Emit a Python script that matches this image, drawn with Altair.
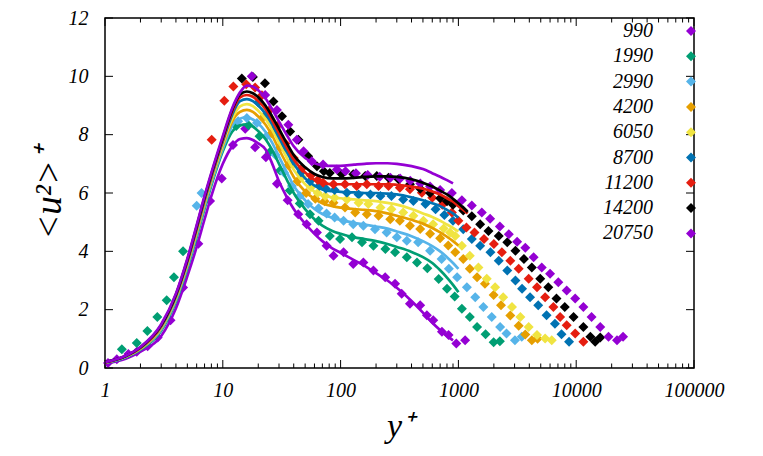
import altair as alt
import pandas as pd

RE = ["990", "1990", "2990", "4200", "6050", "8700", "11200", "14200", "20750"]
COLORS = ["#9400D3", "#009E73", "#56B4E9", "#E69F00", "#F0E442",
          "#0072B2", "#E51E10", "#000000", "#9400D3"]

MAJOR_X = [1, 10, 100, 1000, 10000, 100000]
MINOR_X = [2, 3, 4, 5, 6, 7, 8, 9, 20, 30, 40, 50, 60, 70, 80, 90,
           200, 300, 400, 500, 600, 700, 800, 900,
           2000, 3000, 4000, 5000, 6000, 7000, 8000, 9000,
           20000, 30000, 40000, 50000, 60000, 70000, 80000, 90000]
Y_TICKS = [0, 2, 4, 6, 8, 10, 12]

# ---- model lines (common y+ grid, each series ends where its list ends)
LINE_YP = [1, 1.5, 2, 3, 4, 5, 6, 7, 8, 10, 12, 14, 16, 18, 20, 23, 26, 30, 35, 40,
           50, 60, 70, 85, 100, 130, 160, 200, 250, 300, 400, 500, 600, 700, 800,
           900, 1000, 1200]
l990 = [0.15, 0.32, 0.56, 1.1, 2.05, 3.15, 4.15, 5.1, 5.9, 7.0, 7.6, 7.85,
        7.88, 7.82, 7.7, 7.5, 7.05, 6.4, 5.85, 5.45, 4.95, 4.6, 4.35, 4.1, 3.95,
        3.7, 3.5, 3.25, 3.0, 2.75, 2.3, 1.9, 1.55, 1.3, 1.1, 0.95]
l1990 = [0.17, 0.37, 0.63, 1.28, 2.28, 3.42, 4.49, 5.46, 6.26, 7.43, 8.1, 8.32,
         8.35, 8.28, 8.12, 7.85, 7.5, 7.0, 6.45, 6.0, 5.45, 5.1, 4.88, 4.7, 4.6,
         4.48, 4.42, 4.35, 4.25, 4.15, 3.98, 3.8, 3.6, 3.35, 3.1, 2.85, 2.6]
l2990 = [0.18, 0.38, 0.65, 1.32, 2.33, 3.48, 4.56, 5.54, 6.34, 7.52, 8.3, 8.55,
         8.6, 8.52, 8.38, 8.1, 7.75, 7.25, 6.7, 6.25, 5.75, 5.45, 5.28, 5.15, 5.08,
         4.98, 4.92, 4.85, 4.78, 4.68, 4.52, 4.35, 4.18, 4.0, 3.8, 3.6, 3.4]
l4200 = [0.18, 0.39, 0.66, 1.36, 2.38, 3.54, 4.64, 5.62, 6.42, 7.62, 8.45, 8.78,
         8.85, 8.78, 8.62, 8.35, 8.0, 7.5, 6.98, 6.55, 6.05, 5.8, 5.65, 5.55, 5.5,
         5.45, 5.42, 5.38, 5.3, 5.22, 5.08, 4.95, 4.8, 4.65, 4.5, 4.35, 4.2]
l6050 = [0.19, 0.39, 0.68, 1.39, 2.41, 3.58, 4.69, 5.68, 6.48, 7.68, 8.55, 8.97,
         9.05, 8.98, 8.82, 8.55, 8.2, 7.72, 7.2, 6.8, 6.3, 6.05, 5.92, 5.85, 5.82,
         5.78, 5.75, 5.72, 5.66, 5.6, 5.45, 5.3, 5.18, 5.05, 4.92, 4.8, 4.68]
l8700 = [0.19, 0.4, 0.69, 1.42, 2.45, 3.63, 4.75, 5.74, 6.54, 7.76, 8.68, 9.15,
         9.22, 9.15, 9.0, 8.72, 8.38, 7.9, 7.4, 7.0, 6.5, 6.25, 6.12, 6.06, 6.04,
         6.02, 6.0, 6.0, 5.98, 5.95, 5.85, 5.75, 5.65, 5.55, 5.42, 5.3, 5.15]
l11200 = [0.19, 0.41, 0.7, 1.45, 2.49, 3.67, 4.8, 5.8, 6.6, 7.83, 8.78, 9.28,
          9.36, 9.3, 9.15, 8.88, 8.52, 8.05, 7.55, 7.15, 6.7, 6.45, 6.35, 6.3, 6.3,
          6.3, 6.3, 6.3, 6.3, 6.28, 6.22, 6.15, 6.05, 5.95, 5.82, 5.7, 5.55, 5.3]
l14200 = [0.2, 0.41, 0.71, 1.47, 2.52, 3.71, 4.85, 5.85, 6.65, 7.89, 8.85, 9.38,
          9.48, 9.42, 9.28, 9.0, 8.65, 8.2, 7.7, 7.3, 6.88, 6.65, 6.55, 6.5, 6.5,
          6.52, 6.55, 6.57, 6.57, 6.55, 6.47, 6.35, 6.22, 6.08, 5.95, 5.8, 5.65, 5.35]
l20750 = [0.2, 0.42, 0.72, 1.5, 2.55, 3.75, 4.9, 5.9, 6.7, 7.95, 8.9, 9.45,
          9.68, 9.65, 9.52, 9.25, 8.9, 8.45, 7.98, 7.6, 7.2, 7.02, 6.95, 6.93, 6.93,
          6.97, 7.0, 7.02, 7.02, 7.0, 6.92, 6.82, 6.68, 6.56, 6.44, 6.33]

# ---- measured points [y+, <u^2>+]
m990 = [[1.06, 0.17], [1.26, 0.3], [1.58, 0.48], [1.86, 0.56], [2.3, 0.75], [2.8, 1.05],
        [3.6, 1.64], [4.6, 2.76], [6.2, 4.26], [7.8, 5.73], [9.8, 6.5], [12.2, 7.65],
        [15.5, 8.2], [18.8, 7.57], [23.2, 7.23], [28.8, 6.32], [35.5, 5.75], [43.7, 5.27],
        [51.5, 4.93], [63, 4.65], [76, 4.19], [87, 3.85], [106, 3.97], [128, 3.57],
        [156, 3.62], [190, 3.34], [239, 3.11], [290, 2.89], [330, 2.55], [388, 2.2],
        [474, 2.15], [540, 1.81], [612, 1.64], [725, 1.24], [825, 1.13], [960, 0.84],
        [1140, 0.95]]
m1990 = [[1.39, 0.64], [1.86, 0.86], [2.29, 1.27], [2.78, 1.75], [3.34, 2.32], [3.85, 3.11],
         [4.6, 4.0], [13, 8.3], [16.5, 8.32], [20.5, 7.95], [25, 7.4], [30.6, 6.77],
         [37, 6.09], [45, 5.64], [55, 5.27], [65, 5.05], [81, 4.53], [99, 4.42],
         [125, 4.48], [152, 4.31], [190, 4.19], [240, 4.08], [290, 3.97], [365, 3.8],
         [445, 3.62], [545, 3.42], [680, 3.05], [800, 2.72], [930, 2.45], [1070, 2.03],
         [1250, 1.75], [1440, 1.41], [1700, 1.16], [1990, 0.88], [2250, 0.92]]
m2990 = [[6.0, 5.56], [6.6, 6.0], [13.5, 8.46], [16, 8.57], [19.5, 8.4], [23.5, 7.95],
         [28, 7.3], [33, 6.7], [38.6, 6.24], [45, 5.9], [53, 5.62], [65, 5.48], [76, 5.3],
         [89, 5.16], [106, 5.05], [128, 4.93], [156, 4.88], [196, 4.76], [246, 4.65],
         [300, 4.48], [365, 4.36], [455, 4.31], [575, 4.02], [720, 3.74], [830, 3.4],
         [975, 3.11], [1180, 2.77], [1390, 2.43], [1630, 2.09], [1920, 1.75],
         [2260, 1.41], [2560, 1.18], [3020, 0.95], [3450, 1.07]]
m4200 = [[22, 8.6], [26, 8.05], [30.5, 7.55], [36, 6.95], [43, 6.4], [51, 6.0], [61, 5.8],
         [73, 5.72], [87, 5.67], [109, 5.5], [133, 5.33], [167, 5.27], [210, 5.22],
         [264, 5.1], [318, 5.05], [388, 4.88], [474, 4.77], [575, 4.6], [700, 4.45],
         [820, 4.2], [940, 3.97], [1100, 3.74], [1250, 3.4], [1440, 3.11], [1680, 2.89],
         [1990, 2.5], [2300, 2.15], [2760, 1.8], [3250, 1.45], [3700, 1.15], [4200, 0.95],
         [4700, 1.0]]
m6050 = [[25, 8.6], [29, 8.1], [34, 7.55], [40, 7.0], [47, 6.55], [56, 6.2], [64, 6.0],
         [74, 5.9], [89, 5.84], [113, 5.78], [142, 5.67], [172, 5.62], [218, 5.5],
         [270, 5.44], [340, 5.33], [415, 5.22], [505, 5.05], [610, 4.93], [750, 4.78],
         [850, 4.65], [940, 4.53], [1070, 4.19], [1250, 3.85], [1480, 3.45], [1740, 3.06],
         [2050, 2.77], [2400, 2.43], [2850, 2.09], [3360, 1.75], [3950, 1.41],
         [4650, 1.13], [5450, 1.01], [6200, 0.95]]
m8700 = [[20, 9.1], [24, 8.7], [28, 8.2], [33, 7.6], [39, 7.1], [46, 6.7], [55, 6.4],
         [66, 6.25], [75, 6.15], [89, 6.1], [113, 6.01], [142, 5.95], [179, 5.95],
         [218, 5.9], [270, 5.9], [340, 5.78], [415, 5.73], [525, 5.62], [640, 5.44],
         [760, 5.25], [900, 5.05], [1100, 4.76], [1300, 4.42], [1530, 4.19], [1870, 3.97],
         [2200, 3.68], [2600, 3.34], [3050, 3.0], [3470, 2.72], [4060, 2.43],
         [4760, 2.15], [5600, 1.81], [6600, 1.52], [7500, 1.16], [8700, 0.9]]
m11200 = [[8.05, 7.83], [10.3, 9.16], [12.3, 9.65], [15.8, 9.73], [18.8, 9.62],
          [21.5, 9.35], [25, 8.85], [29, 8.3], [34, 7.7], [40, 7.2], [47, 6.85], [56, 6.6],
          [64, 6.45], [71, 6.35], [87, 6.3], [109, 6.3], [137, 6.24], [167, 6.3],
          [210, 6.24], [255, 6.24], [318, 6.18], [388, 6.13], [490, 6.01], [600, 5.84],
          [730, 5.6], [880, 5.33], [1000, 5.05], [1170, 4.82], [1370, 4.65], [1650, 4.42],
          [2000, 4.25], [2340, 3.97], [2760, 3.68], [3250, 3.4], [3950, 3.06],
          [4650, 2.77], [5450, 2.43], [6400, 2.09], [7300, 1.75], [8300, 1.47],
          [9800, 1.18], [11500, 0.9]]
m14200 = [[14.5, 9.93], [18, 9.98], [22.8, 9.76], [26.9, 9.14], [31.8, 8.63], [37.3, 8.11],
          [43.8, 7.83], [53, 7.26], [63, 6.92], [72, 6.75], [81, 6.69], [102, 6.64],
          [128, 6.64], [162, 6.58], [203, 6.58], [255, 6.52], [310, 6.47], [388, 6.3],
          [474, 6.15], [575, 6.0], [700, 5.82], [800, 5.72], [900, 5.6], [1100, 5.4],
          [1300, 5.2], [1530, 4.93], [1800, 4.7], [2200, 4.53], [2600, 4.31], [3050, 4.02],
          [3600, 3.74], [4200, 3.45], [4950, 3.06], [5800, 2.77], [6800, 2.38],
          [8000, 2.09], [9500, 1.75], [11500, 1.41], [13200, 1.07], [14500, 0.9],
          [16000, 1.05]]
m20750 = [[17.6, 10.0], [22.9, 9.36], [28.8, 8.85], [36, 8.34], [42.5, 7.83], [48.5, 7.43],
          [57, 7.09], [71, 6.98], [93, 6.81], [110, 6.75], [135, 6.68], [170, 6.62],
          [215, 6.56], [265, 6.52], [320, 6.5], [390, 6.42], [475, 6.33], [575, 6.22],
          [700, 6.1], [880, 6.0], [1070, 5.75], [1300, 5.57], [1580, 5.33], [1860, 5.12],
          [2250, 4.85], [2680, 4.59], [3150, 4.33], [3700, 4.12], [4350, 3.8],
          [5100, 3.45], [6000, 3.23], [7050, 2.94], [8300, 2.66], [9800, 2.38],
          [11500, 2.09], [13500, 1.75], [16000, 1.41], [18800, 1.07], [22200, 0.95],
          [25000, 1.07]]

LINES = dict(zip(RE, [l990, l1990, l2990, l4200, l6050, l8700, l11200, l14200, l20750]))
MARKS = dict(zip(RE, [m990, m1990, m2990, m4200, m6050, m8700, m11200, m14200, m20750]))

dfm = pd.DataFrame([{"re": r, "k": i, "yp": p[0], "v": p[1]}
                    for i, r in enumerate(RE) for p in MARKS[r]])
dfl = pd.DataFrame([{"re": r, "k": i, "yp": x, "v": y}
                    for i, r in enumerate(RE) for x, y in zip(LINE_YP, LINES[r])])

W, H = 589, 350
FONT = "Liberation Serif"

xs = alt.Scale(type="log", domain=[1, 100000], nice=False)
ys = alt.Scale(domain=[0, 12], nice=False, zero=False)
cs = alt.Scale(domain=RE, range=COLORS)

points = alt.Chart(dfm).mark_point(shape="diamond", filled=True, size=100, opacity=1).encode(
    x=alt.X("yp:Q", scale=xs, axis=None),
    y=alt.Y("v:Q", scale=ys, axis=None),
    color=alt.Color("re:N", scale=cs, legend=alt.Legend(
        orient="none", legendX=576, legendY=3, title=None,
        symbolType="diamond", symbolSize=100, symbolStrokeWidth=0, symbolOpacity=1,
        labelAlign="right", labelOffset={"expr": "-48"}, labelFont=FONT,
        labelFontStyle="italic", labelFontSize=20, labelColor="black",
        rowPadding=5.3, padding=0)),
)

lines = alt.Chart(dfl).mark_line(strokeWidth=2.7, interpolate="monotone").encode(
    x=alt.X("yp:Q", scale=xs, axis=alt.Axis(
        orient="bottom", values=MAJOR_X, format="d", ticks=False, tickSize=0,
        domain=False, grid=False, labelPadding=12, labelFlush=False, labelOverlap=False,
        labelFont=FONT, labelFontStyle="italic", labelFontSize=20, labelColor="black",
        title="y⁺", titleFont=FONT, titleFontSize=34, titleFontStyle="italic",
        titleFontWeight="normal", titleColor="black", titleY=68,
        titleBaseline="alphabetic")),
    y=alt.Y("v:Q", scale=ys, axis=alt.Axis(
        orient="left", values=Y_TICKS, ticks=False, tickSize=0, domain=False,
        grid=False, labelPadding=17, labelFlush=False, labelOverlap=False,
        labelFont=FONT, labelFontStyle="italic", labelFontSize=20, labelColor="black",
        title="<u²>⁺", titleFont=FONT, titleFontSize=37, titleFontStyle="italic",
        titleFontWeight="normal", titleColor="black", titleX=-56, titleY=175,
        titleAngle=270, titleAlign="center", titleBaseline="middle")),
    color=alt.Color("re:N", scale=cs, legend=None),
    detail="k:N",
)


def x_ticks(vals, y0, y1):
    return alt.Chart(pd.DataFrame({"t": vals})).mark_rule(
        color="black", strokeWidth=1).encode(
        x=alt.X("t:Q", scale=xs, axis=None), y=alt.value(y0), y2=alt.value(y1))


def y_ticks(vals, x0, x1):
    return alt.Chart(pd.DataFrame({"t": vals})).mark_rule(
        color="black", strokeWidth=1).encode(
        y=alt.Y("t:Q", scale=ys, axis=None), x=alt.value(x0), x2=alt.value(x1))


tick_layers = [
    x_ticks(MAJOR_X, H, H - 8), x_ticks(MAJOR_X, 0, 8),
    x_ticks(MINOR_X, H, H - 4.5), x_ticks(MINOR_X, 0, 4.5),
    y_ticks(Y_TICKS, 0, 8), y_ticks(Y_TICKS, W, W - 8),
]

chart = alt.layer(points, lines, *tick_layers).resolve_scale(
    x="shared", y="shared", color="shared"
).resolve_axis(x="independent", y="independent").properties(
    width=W, height=H,
    autosize=alt.AutoSizeParams(type="none"),
    padding={"left": 97, "top": 10, "right": 61, "bottom": 80},
    background="white",
).configure_view(stroke="black", strokeWidth=1.5)

chart.save("out.html", embed_options={"renderer": "svg", "actions": False})
